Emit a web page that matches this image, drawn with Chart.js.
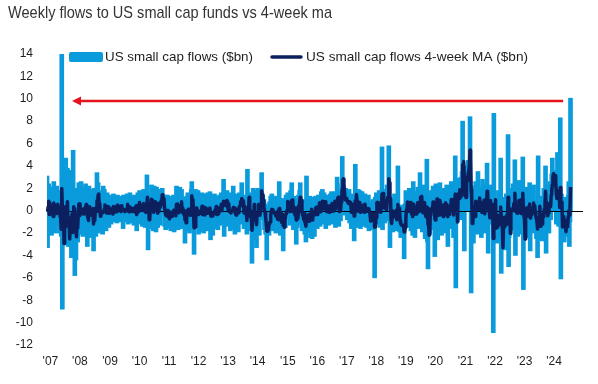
<!DOCTYPE html>
<html>
<head>
<meta charset="utf-8">
<script src="https://cdn.jsdelivr.net/npm/chart.js@4.4.1/dist/chart.umd.min.js"></script>
<style>
  html, body { margin:0; padding:0; background:#fff; }
  #wrap { position:relative; width:598px; height:384px; }
</style>
</head>
<body>
<div id="wrap"><canvas id="c" width="598" height="384"></canvas></div>
<script>
const $ = (id) => document.getElementById(id);

// Weekly flows ($bn), one row = 20 weeks, first week 22 Nov 2006
const flows = [
  3.1,-3.3,1.2,2.4,-1.6,0.8,-0.9,2.1,-2.2,1.5,0.4,-1.8,2.6,-0.7,1.1,-2.0,0.6,2.2,-1.4,0.9,
  -1.2,1.8,-0.5,-2.0,-1.8,-2.3,14.0,-8.8,-1.5,-2.6,1.2,-3.0,-1.4,4.7,-2.9,-2.4,3.8,-3.2,-2.6,-1.8,
  -2.5,3.6,-1.8,-4.2,1.2,-3.0,5.4,-2.2,0.5,-5.8,1.9,-4.4,-1.0,2.0,-2.8,0.7,2.5,-2.1,1.4,-1.5,
  2.6,-1.9,0.9,-2.3,2.1,-0.6,1.5,-2.0,2.4,0.3,-1.2,-3.2,1.7,-0.8,2.2,-1.7,0.6,-2.4,1.9,-0.9,
  1.3,-1.5,-3.6,2.0,-0.4,1.6,-2.3,0.8,3.4,-1.1,2.5,1.2,-1.8,0.6,-2.0,1.8,-1.3,0.9,-2.1,2.2,
  -1.4,1.9,-0.7,1.2,-1.8,0.5,1.6,-1.1,0.3,-1.5,1.4,-0.6,0.9,-1.2,1.3,-0.3,-1.0,1.5,-0.8,0.7,
  -0.9,1.2,0.4,-1.1,1.4,-0.5,0.8,-1.0,1.3,0.2,-0.8,1.1,-0.4,0.9,-1.6,1.4,-0.6,0.5,-1.0,1.2,
  -0.7,1.5,0.3,-1.2,1.0,-0.5,1.6,-0.9,0.4,-1.1,1.3,-0.2,0.8,-1.3,1.4,0.1,-0.8,1.1,-1.8,0.9,
  1.6,-1.0,0.5,1.8,-1.2,0.7,-0.6,1.7,-1.4,0.4,1.9,-0.9,0.6,-1.5,1.2,-0.4,3.2,0.8,-3.5,1.1,
  -1.6,1.5,-0.6,0.9,2.3,-1.2,1.7,-1.8,0.7,2.2,-1.0,1.3,-1.9,2.1,0.4,-1.5,1.6,-0.8,1.8,-1.3,
  1.9,1.2,0.6,2.0,1.5,-0.3,1.1,-1.4,0.5,-1.7,0.8,-1.2,1.4,-0.9,-1.6,0.7,-1.1,1.3,-1.8,0.4,
  -1.5,0.9,-0.6,1.4,-1.9,0.3,-1.2,1.0,2.2,-1.4,0.6,-1.7,1.8,-0.8,2.1,-1.3,0.5,1.9,-1.6,0.2,
  -1.1,1.2,-0.4,-2.9,0.8,-1.8,1.3,-0.9,1.6,-1.5,0.5,-2.0,1.4,-0.6,1.9,2.6,-1.2,0.7,-1.7,-3.9,
  1.3,-1.4,1.9,-0.8,0.6,-1.6,1.8,-2.1,0.9,-1.0,1.5,-1.9,0.4,1.6,-1.5,0.8,-2.0,1.2,-0.5,1.5,
  -1.3,0.7,-1.8,1.6,-0.4,1.1,-1.5,1.7,-2.6,0.5,-1.2,1.4,-2.2,0.9,-0.6,1.5,-1.6,0.3,1.3,-1.4,
  0.8,-1.7,1.2,-0.5,1.4,-1.3,0.6,1.6,-0.9,1.1,0.4,2.8,-2.3,1.7,0.9,1.5,-0.6,1.8,0.5,-1.4,
  1.6,-1.0,0.7,-1.8,1.3,-0.4,0.9,-1.6,2.2,-0.8,1.2,-2.1,0.6,-1.3,1.5,-0.7,1.1,-1.9,0.8,1.6,
  1.3,-0.5,1.0,2.5,-1.2,1.4,0.6,-1.6,1.2,-0.8,0.9,-1.5,-2.1,3.7,0.8,-1.3,1.6,-0.6,-1.8,0.7,
  -1.2,-4.7,1.1,2.0,-1.5,0.6,-2.6,1.8,-0.9,-3.3,1.2,2.0,-1.4,0.5,-2.2,1.5,0.3,1.9,3.4,-0.8,
  1.4,-0.5,1.0,-1.7,0.6,-2.1,-1.2,-4.4,0.4,-1.9,-1.0,-2.2,0.8,-1.6,1.3,-0.7,1.5,-1.8,0.9,-1.1,
  1.2,-1.6,0.5,-2.0,1.3,-1.4,-0.8,0.9,-1.9,2.6,-1.3,-2.2,0.4,-1.0,1.1,-1.8,-3.6,0.7,-1.2,0.3,
  -1.5,1.4,-0.6,0.9,1.6,-0.7,1.2,0.5,-1.3,1.8,0.6,2.5,-1.1,0.8,-1.7,1.3,0.2,-1.4,0.9,-3.0,
  1.1,-1.5,0.7,1.4,-0.9,1.8,2.5,-1.2,0.5,-1.8,1.0,-0.6,-1.7,0.4,-2.1,-1.0,-2.8,3.1,-2.0,-1.2,
  -1.4,0.8,-1.9,1.3,-2.4,0.5,1.1,-2.5,0.6,-0.9,1.2,-2.3,0.7,1.3,-1.1,0.4,-1.6,1.0,1.4,-0.7,
  1.1,-1.4,0.6,1.7,-0.8,1.9,-1.2,0.9,1.6,-0.5,1.2,-1.6,0.7,1.4,-0.9,0.5,-1.3,1.1,-0.4,1.5,
  -1.0,1.7,0.3,-1.2,1.4,-0.6,0.9,1.7,-1.5,0.8,1.3,3.0,-0.7,1.2,-1.4,0.6,1.8,-0.9,1.5,2.4,
  4.85,2.2,1.9,0.6,1.8,-0.4,2.0,0.9,1.3,-0.8,1.6,0.5,1.9,-1.1,1.4,0.7,-1.6,1.5,0.8,-1.2,
  1.2,-2.7,0.9,4.15,-0.9,1.6,-1.5,0.7,1.9,-1.2,0.4,1.8,-1.6,1.1,-0.6,1.7,-1.4,0.5,1.3,-1.0,
  1.5,-0.8,0.9,-1.5,1.2,-0.4,1.4,-1.8,0.6,-1.6,-0.9,0.8,-1.7,-1.1,1.0,-1.4,0.5,-6.0,1.2,0.8,
  1.6,-0.7,1.3,0.6,-1.2,1.8,0.4,-1.5,1.1,0.7,5.7,-1.7,1.4,-0.6,1.9,-1.1,0.8,1.5,-0.9,2.3,
  1.8,1.5,5.8,0.9,-3.3,0.6,-1.4,-0.5,1.2,-1.9,0.3,-1.2,1.5,-1.7,-0.6,0.9,-1.8,-0.9,4.0,-1.5,
  -0.8,-1.9,0.5,-2.4,-1.3,-2.0,0.4,-2.3,-1.4,-4.3,0.6,-0.9,1.8,-1.2,0.9,1.6,-1.5,0.7,2.0,-1.0,
  1.2,-1.8,0.5,1.4,-2.2,2.6,-0.7,1.1,-2.4,0.8,1.7,-1.3,0.4,2.1,-1.6,1.0,-0.8,3.4,1.2,-1.1,
  1.6,-1.9,0.7,2.3,-1.2,1.1,-2.5,0.6,-1.4,4.6,-2.8,-5.2,-1.6,0.9,-2.1,1.3,-0.5,1.8,-1.7,0.8,
  2.2,-1.3,0.6,-4.1,1.5,2.4,-0.9,1.2,-2.6,0.7,1.9,-1.5,2.5,-0.6,1.1,-2.2,1.6,0.3,-1.8,2.0,
  -1.1,1.4,0.5,-2.0,2.3,0.8,-3.2,1.7,-0.7,2.1,-1.6,0.9,2.6,-1.3,0.4,1.8,-2.4,1.2,2.2,4.9,
  -6.9,1.5,2.4,-1.0,1.8,2.9,0.6,2.2,-0.8,3.0,1.9,3.5,8.0,3.1,3.0,-3.6,2.8,4.0,1.5,3.6,
  2.4,3.2,4.5,4.2,4.5,8.4,2.0,-7.35,1.6,-0.8,2.2,-2.9,1.4,0.9,-1.5,2.6,-0.4,1.1,-2.1,3.5,
  0.7,-1.8,2.1,-0.6,1.5,-2.4,0.9,2.8,-1.3,0.5,1.7,-2.0,1.2,2.4,-0.9,4.25,1.0,-3.8,1.9,0.6,
  -1.2,2.3,-0.5,1.4,-1.0,0.6,-10.9,8.7,-1.8,-0.6,-2.4,-1.4,0.9,-2.9,-1.5,1.8,-2.2,0.4,-1.6,4.7,
  -5.6,-2.6,-2.5,-2.5,1.2,-1.9,0.8,-3.5,-0.6,1.5,-2.2,-1.3,6.8,-5.0,-2.4,1.1,-1.8,2.0,-0.9,1.3,
  -1.7,2.4,0.5,-1.2,4.55,-4.0,1.6,-0.7,2.2,-2.3,1.0,2.7,-1.4,0.6,1.9,-2.1,1.5,2.0,4.8,-7.05,
  -1.6,0.8,-2.3,1.2,-1.8,2.1,-0.5,1.4,-2.4,0.9,2.5,-3.6,1.1,-0.7,1.8,-2.0,0.6,2.3,-1.5,0.4,
  -1.9,1.0,-2.5,-0.8,-4.2,4.9,-2.6,-1.4,0.7,-2.2,-1.1,1.3,-2.7,0.5,-1.3,2.0,-0.6,1.5,4.0,-3.8,
  1.2,-1.5,2.3,0.4,-2.0,1.7,2.6,-0.8,2.1,3.3,4.7,2.0,3.2,2.8,3.6,2.9,0.8,-1.2,1.9,5.2,
  1.1,-1.4,2.0,-0.6,8.3,-6.1,1.5,-1.9,0.7,-2.4,1.2,-2.8,-1.6,-0.9,-2.2,0.5,-1.7,-2.3,1.4,2.6,
  -3.2,-1.0,10.05
];

// 4-week moving average ($bn), same weeks
const flowsMA = [
  null,-0.1,0.33,0.85,-0.33,0.7,0.18,0.1,-0.05,0.13,0.45,-0.53,0.68,0.13,0.3,0.25,-0.25,0.48,-0.15,0.58,
  0.13,0.03,0.25,-0.48,-0.63,-1.65,1.98,0.28,0.35,0.28,-2.93,-1.48,-1.45,0.38,-0.65,-0.5,0.8,-1.18,-1.1,-0.95,
  -2.53,-0.83,-0.63,-1.23,-0.3,-1.95,-0.15,0.35,0.18,-0.53,-1.4,-1.95,-2.33,-0.38,-1.55,-0.28,0.6,-0.43,0.63,0.08,
  0.1,0.15,0.03,-0.18,-0.3,0.03,0.18,0.25,0.33,0.55,-0.13,-0.43,-0.6,-0.88,-0.03,0.35,0.08,-0.33,-0.4,-0.2,
  -0.03,0.2,-1.18,-0.45,-0.88,-0.1,0.23,-0.08,0.88,0.2,1.4,1.5,0.2,0.63,-0.5,-0.35,-0.23,-0.15,-0.18,-0.08,
  -0.1,0.15,0.5,0.25,0.15,-0.2,0.38,-0.2,0.33,-0.18,-0.23,-0.1,0.05,0.13,0.1,0.18,-0.3,0.38,-0.15,0.1,
  0.13,0.05,0.35,-0.1,0.48,0.05,0.15,0.18,0.15,0.33,-0.08,0.45,0.03,0.2,0,0.08,0.03,-0.08,0.08,0.03,
  0,0.25,0.58,-0.03,0.4,-0.1,0.23,0.3,0.15,0,-0.08,0.1,0.2,0.15,0.18,0.25,-0.15,0.45,-0.35,-0.15,
  0.45,-0.08,0.5,0.73,0.03,0.45,0.18,0.15,0.1,0.03,0.65,0,0.5,0.03,-0.15,-0.03,0.63,1.2,0.03,0.4,
  -0.8,-0.63,0.1,0.05,1.03,0.35,0.93,0.25,-0.15,0.7,0.03,0.8,0.15,0.13,0.48,-0.23,0.65,-0.08,0.28,0.33,
  0.4,0.9,0.6,1.43,1.33,0.95,1.08,0.23,-0.03,-0.38,-0.45,-0.4,-0.18,0.03,-0.58,-0.1,-0.73,-0.18,-0.23,-0.3,
  -0.4,-0.5,-0.2,0.05,-0.05,-0.2,-0.35,-0.45,0.58,0.15,0.6,-0.08,-0.18,-0.03,0.35,0.45,0.13,0.8,-0.13,0.25,
  -0.15,-0.33,-0.03,-0.8,-0.33,-1.08,-0.65,-0.15,0.05,0.13,-0.08,-0.35,-0.4,-0.18,0.18,1.33,0.68,1.0,0.1,-1.53,
  -0.9,-1.43,-0.53,0.25,0.08,0.03,0,-0.33,-0.25,-0.1,-0.18,-0.13,-0.25,0.4,-0.35,0.33,-0.28,-0.38,-0.13,0.05,
  0.23,0.1,-0.23,-0.2,0.03,0.13,0.2,0.23,-0.33,-0.48,-0.4,-0.48,-0.38,-0.28,-0.13,-0.1,0.05,-0.1,0.38,-0.35,
  0.25,-0.25,-0.28,-0.05,0.1,0.2,0.05,0.58,0,0.6,0.55,0.85,0.5,0.65,0.78,0.45,0.88,0.9,0.8,0.08,
  0.63,-0.08,-0.03,-0.13,-0.2,-0.05,0,0.05,0.28,0.18,0.25,0.13,-0.28,-0.4,-0.33,0.03,0.15,0,-0.18,0.4,
  0.45,0.8,0.85,1.08,0.45,0.93,0.83,-0.2,0.4,-0.15,-0.08,-0.05,-0.88,0.25,0.23,0.28,1.2,0.13,-0.53,-0.03,
  -0.73,-1.75,-1.03,-0.7,-0.78,0.55,-0.38,-0.43,-0.28,-1.25,-0.3,-0.25,-0.38,0.58,-0.28,-0.4,0.03,0.38,1.78,1.2,
  1.48,0.88,0.28,0.05,-0.15,-0.55,-1.1,-1.78,-1.83,-1.78,-1.73,-1.18,-1.08,-1.0,-0.43,-0.05,0.13,0.08,-0.03,-0.13,
  -0.2,-0.15,-0.25,-0.48,-0.45,-0.4,-0.73,0,-0.8,0.2,0.08,-0.7,-0.13,-1.03,-0.43,-0.33,-1.33,-0.9,-1.48,-0.95,
  -0.43,-0.25,-0.1,0.05,0.83,0.3,0.75,0.65,-0.08,0.55,0.4,0.9,0.95,0.7,0.13,-0.18,0.15,-0.4,0.25,-0.83,
  -0.6,-0.63,-0.68,0.43,-0.08,0.75,1.2,0.55,0.9,0,-0.38,-0.23,-0.78,-0.23,-1.0,-1.1,-1.38,-0.7,-0.68,-0.73,
  -0.38,-0.95,-0.93,-0.3,-0.55,-0.63,0.13,-0.83,-0.08,-0.43,-0.4,-0.35,-0.33,0.23,-0.35,0.33,-0.25,-0.33,0.3,0.03,
  0.7,0.1,-0.1,0.5,0.03,0.85,0.4,0.2,0.8,0.2,0.8,0.18,-0.05,0.43,-0.1,0.43,-0.08,-0.15,-0.03,0.23,
  0.3,0.45,0.63,-0.05,0.55,-0.03,0.13,0.85,0.13,0.48,0.58,0.9,1.1,1.2,0.53,-0.08,0.55,0.03,0.75,1.2,
  1.96,2.74,2.84,2.39,1.63,0.98,1.0,1.08,0.95,0.85,0.75,0.65,0.8,0.73,0.68,0.73,-0.15,0.5,0.35,-0.13,
  0.58,-0.48,-0.45,0.89,0.36,1.44,0.84,-0.03,0.68,-0.03,0.45,0.73,-0.15,0.43,0.18,0.15,0.2,0.05,0.53,-0.15,
  0.58,0.25,0.15,0.03,-0.05,0.05,0.18,0.1,-0.05,-0.35,-0.93,-0.28,-0.85,-0.73,-0.25,-0.8,-0.25,-1.48,-1.43,-0.88,
  -0.6,0.73,0.75,0.7,0,0.63,0.4,-0.13,0.45,0.18,1.5,1.45,1.53,1.2,0.25,0.4,0.25,0.78,0.08,0.93,
  1.18,1.18,2.85,2.5,1.23,1.0,-0.8,-1.15,-0.03,-0.65,-0.23,-0.4,-0.33,-0.28,-0.5,0.03,-0.8,-0.6,0.55,-0.05,
  0.2,-0.05,-0.93,-1.15,-1.28,-1.3,-1.33,-1.3,-1.33,-1.9,-1.85,-1.5,-0.7,0.08,0.15,0.78,-0.05,0.43,0.7,0.05,
  0.73,0.1,-0.28,0.33,-0.53,0.58,0.28,0.2,0.15,-0.3,0.3,-0.3,0.4,0.73,-0.1,0.48,0.18,0.5,1.2,0.68,
  1.28,-0.05,-0.18,0.68,-0.03,0.73,-0.08,-0.5,-0.55,0.33,0.25,-1.2,-1.25,-2.18,-2.0,-0.38,-0.1,0.13,0.23,0.1,
  0.78,0,0.58,-0.65,-0.83,0.1,-0.28,1.05,0.03,-0.4,0.3,-0.38,0.9,0.58,0.38,0.2,-0.03,0.2,-0.53,0.53,
  -0.15,0.13,0.7,-0.3,0.55,0.4,-0.53,0.4,-0.35,-0.03,0.38,0.18,1.0,0.15,0.65,0.88,-0.38,0.25,0.7,1.48,
  0.35,0.43,0.48,-1.0,1.18,1.53,1.08,1.88,1.23,1.25,1.58,1.9,4.1,4.13,4.4,2.63,1.33,1.55,1.18,2.98,
  2.88,2.68,3.43,3.58,4.1,5.4,4.78,1.89,1.16,-1.14,-1.09,0.03,-0.03,0.4,-0.53,0.85,0.4,0.45,0.3,0.53,
  0.8,0.08,1.13,0.1,0.3,0.15,-0.15,0.7,0,0.73,0.93,-0.28,0.35,0.83,0.18,1.74,1.69,0.14,0.84,-0.08,
  -0.63,0.9,0.3,0.5,0.55,0.13,-2.48,-0.65,-0.85,-1.15,0.98,-1.55,-0.88,-1.45,-1.23,-0.43,-1.2,-0.38,-0.4,0.33,
  -0.53,-1.28,-1.5,-3.3,-1.6,-1.43,-0.6,-0.85,-1.3,-0.45,-1.2,-0.65,1.2,-0.43,-0.48,0.13,-2.03,-0.28,0.1,0.15,
  0.18,0.28,0.63,0,1.56,-0.04,0.24,0.36,-0.23,0.2,0.05,0.9,0,0.73,0.95,-0.25,0.48,0.83,1.55,0.31,
  -0.46,-0.76,-2.54,-0.48,-0.53,-0.2,0.25,0.3,0.15,-0.15,0.6,-0.65,0.23,-0.18,-0.35,0.05,-0.08,0.68,-0.15,0.45,
  -0.18,-0.5,-0.75,-1.05,-1.63,-0.65,-0.68,-0.83,0.4,-1.38,-1.0,-0.33,-1.18,-0.5,-0.55,-0.38,0.15,0.4,1.73,0.28,
  0.73,-0.03,-0.45,0.6,-0.2,0.6,0.68,0.38,1.4,1.8,2.33,3.03,3.3,3.18,2.9,3.13,2.53,1.53,1.1,1.68,
  1.75,1.7,1.73,0.28,2.08,0.9,0.78,0.45,-1.45,-0.53,-0.6,-0.83,-1.4,-1.03,-1.88,-1.05,-1.08,-1.43,-0.53,0,
  -0.38,-0.05,2.11
];

const yearTicks = ["'07","'08","'09","'10","'11","'12","'13","'14","'15","'16","'17","'18","'19","'20","'21","'22","'23","'24"];
const firstWeek = "2006-11-22";
const lastDay = "2024-12-31";

const title = "Weekly flows to US small cap funds vs 4-week ma";
const seriesNames = ["US small cap flows ($bn)", "US small cap flows 4-week MA ($bn)"];

// red arrow, drawn at this level from the week index arrowFrom back to arrowTo
const arrowLevel = 9.8;
const arrowFrom = 909;
const arrowTo = 44;

const colors = { flow:"#0a9bdc", ma:"#0c1f5e", arrow:"#e5141c", text:"#1e1e1e", title:"#333333" };
const FONT = "'Liberation Sans', Arial, sans-serif";

// week labels
function buildWeeks(){
  const out = [];
  let t = Date.parse(firstWeek + "T00:00:00Z");
  const end = Date.parse(lastDay + "T00:00:00Z");
  while(t <= end){
    out.push(new Date(t).toISOString().slice(0,10));
    t += 7*864e5;
  }
  return out;
}
const weeks = buildWeeks();
const yearStart = {};
weeks.forEach((w,i)=>{
  const y = +w.slice(0,4);
  if(yearStart[y] === undefined) yearStart[y] = i;
});
const tickIdx = yearTicks.map((_,k)=>yearStart[2007+k]);

function fitText(ctx, str, x, y, w){
  const m = ctx.measureText(str).width;
  ctx.save();
  ctx.translate(x, y);
  ctx.scale(w/m, 1);
  ctx.fillText(str, 0, 0);
  ctx.restore();
}

// black zero line over the bars, under the MA line
const zeroLine = {
  id:"zeroLine",
  afterDatasetDraw(chart, args){
    if(args.index !== 0) return;
    const {ctx, chartArea:a, scales:{y}} = chart;
    const py = Math.round(y.getPixelForValue(0)) + 0.5;
    ctx.save();
    ctx.strokeStyle = "#000";
    ctx.lineWidth = 1;
    ctx.beginPath();
    ctx.moveTo(a.left, py);
    ctx.lineTo(a.right, py);
    ctx.stroke();
    ctx.restore();
  }
};

// title, in-plot legend and the red arrow
const overlay = {
  id:"overlay",
  afterDatasetsDraw(chart){
    const {ctx, scales:{x, y}} = chart;

    // arrow
    const ay = y.getPixelForValue(arrowLevel);
    const x1 = x.getPixelForValue(arrowFrom);
    const x2 = x.getPixelForValue(arrowTo);
    ctx.save();
    ctx.strokeStyle = colors.arrow;
    ctx.fillStyle = colors.arrow;
    ctx.lineWidth = 2.4;
    ctx.beginPath();
    ctx.moveTo(x1, ay);
    ctx.lineTo(x2 + 7, ay);
    ctx.stroke();
    ctx.beginPath();
    ctx.moveTo(x2, ay);
    ctx.lineTo(x2 + 9, ay - 4.5);
    ctx.lineTo(x2 + 9, ay + 4.5);
    ctx.closePath();
    ctx.fill();
    ctx.restore();

    // title
    ctx.save();
    ctx.fillStyle = colors.title;
    ctx.font = "17px " + FONT;
    ctx.textBaseline = "alphabetic";
    fitText(ctx, title, 8, 18, 324);

    // legend
    const ly = 57;
    ctx.fillStyle = colors.flow;
    ctx.beginPath();
    ctx.roundRect(69, ly - 5, 34, 10, 2);
    ctx.fill();
    ctx.strokeStyle = colors.ma;
    ctx.lineWidth = 3.5;
    ctx.lineCap = "round";
    ctx.beginPath();
    ctx.moveTo(272, ly);
    ctx.lineTo(301, ly);
    ctx.stroke();
    ctx.fillStyle = colors.text;
    ctx.font = "13px " + FONT;
    ctx.textBaseline = "middle";
    fitText(ctx, chart.data.datasets[0].label, 105, ly, 148);
    fitText(ctx, chart.data.datasets[1].label, 306, ly, 222);
    ctx.restore();
  }
};

new Chart($("c").getContext("2d"), {
  type:"bar",
  data:{
    labels:weeks,
    datasets:[
      {
        type:"bar",
        label:seriesNames[0],
        data:flows,
        backgroundColor:colors.flow,
        borderWidth:0,
        barThickness:4,
        order:1
      },
      {
        type:"line",
        label:seriesNames[1],
        data:flowsMA,
        borderColor:colors.ma,
        borderWidth:3.5,
        pointRadius:0,
        tension:0,
        borderJoinStyle:"round",
        order:0
      }
    ]
  },
  options:{
    responsive:false,
    animation:false,
    devicePixelRatio:1,
    layout:{ padding:{ top:54, right:15, bottom:0, left:0 } },
    plugins:{ legend:{display:false}, tooltip:{enabled:false}, title:{display:false} },
    scales:{
      x:{
        type:"category",
        offset:false,
        grid:{display:false, drawTicks:false},
        border:{display:false},
        afterBuildTicks:(ax)=>{ ax.ticks = tickIdx.map(v=>({value:v})); },
        afterFit:(ax)=>{ ax.height = 39; },
        ticks:{
          autoSkip:false, maxRotation:0, minRotation:0, padding:9,
          color:colors.text, font:{family:FONT, size:12},
          callback:(v)=>{ const k = tickIdx.indexOf(v); return k < 0 ? "" : yearTicks[k]; }
        }
      },
      y:{
        min:-12, max:14,
        afterFit:(ax)=>{ ax.width = 47; },
        grid:{display:false, drawTicks:false},
        border:{display:false},
        ticks:{ stepSize:2, padding:14, color:colors.text, font:{family:FONT, size:12} }
      }
    }
  },
  plugins:[zeroLine, overlay]
});
</script>
</body>
</html>
